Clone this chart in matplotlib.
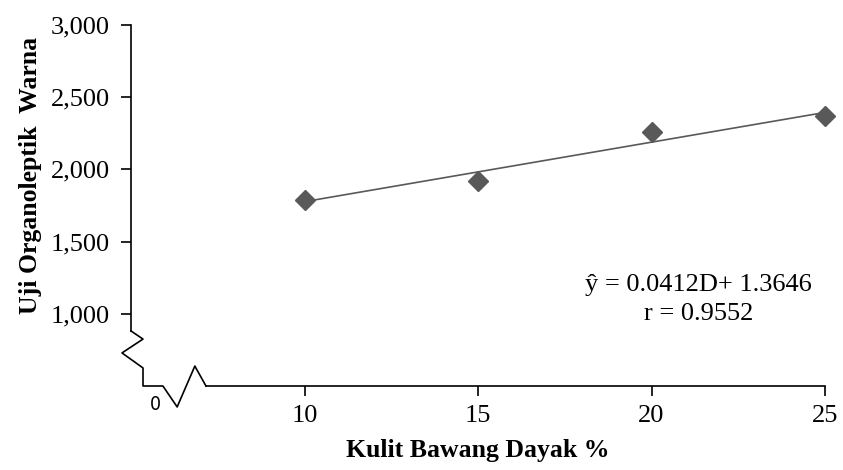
import matplotlib
matplotlib.use("Agg")
import matplotlib.pyplot as plt
import numpy as np

# data (x = % kulit bawang dayak, y = skor organoleptik warna)
konsentrasi = [10, 15, 20, 25]
skor_warna = [1.79, 1.92, 2.26, 2.37]
slope, intercept = 0.0412, 1.3646
x_ticks = [10, 15, 20, 25]
y_ticks = [1.0, 1.5, 2.0, 2.5, 3.0]

SERIF = "Liberation Serif"
GREY = "#595959"

fig = plt.figure(figsize=(8.43, 4.70), dpi=100)
W, H = 843, 470
ax = fig.add_axes([131 / W, (H - 386) / H, (825 - 131) / W, (386 - 25) / H])
ax.set_xlim(5, 25)
ax.set_ylim(0.5, 3.0)

# points + regression line
ax.plot(konsentrasi, skor_warna, "D", color=GREY, markersize=10, zorder=3,
        clip_on=False)
xl = np.array([konsentrasi[0], konsentrasi[-1]])
ax.plot(xl, slope * xl + intercept, color=GREY, linewidth=1.2, zorder=2)

# spines with broken-axis look
for s in ["top", "right"]:
    ax.spines[s].set_visible(False)
ax.spines["left"].set_bounds(0.881, 3.0)
ax.spines["bottom"].set_bounds(7.16, 25)
ax.spines["left"].set_linewidth(1.2)
ax.spines["bottom"].set_linewidth(1.2)

zx = [5.0, 5.346, 4.74, 5.346, 5.346, 5.92, 6.33, 6.84, 7.16]
zy = [0.881, 0.825, 0.729, 0.625, 0.5, 0.5, 0.355, 0.638, 0.5]
ax.plot(zx, zy, color="black", linewidth=1.2, clip_on=False)
ax.text(5.69, 0.375, "0", fontsize=14, family="DejaVu Sans",
        fontstretch="condensed", ha="center", va="center", clip_on=False)

ax.set_xticks(x_ticks)
ax.set_xticklabels([str(v) for v in x_ticks], family=SERIF, fontsize=19)
ax.set_yticks(y_ticks)
ax.set_yticklabels([f"{v:,.3f}".replace(".", ",") for v in y_ticks],
                   family=SERIF, fontsize=19)
ax.tick_params(axis="both", direction="out", length=7, width=1.2, colors="black")
ax.tick_params(axis="x", pad=7)
ax.tick_params(axis="y", pad=8)

ax.set_xlabel("Kulit Bawang Dayak %", family=SERIF, fontsize=18.5,
              fontweight="bold", labelpad=8)
ax.set_ylabel("Uji Organoleptik  Warna", family=SERIF, fontsize=18.5,
              fontweight="bold")
ax.yaxis.set_label_coords(-0.128, 0.584)

ax.text(0.818, 0.24, "\u0177 = 0.0412D+ 1.3646\nr = 0.9552", transform=ax.transAxes,
        family=SERIF, fontsize=19, ha="center", va="center", linespacing=1.45)

fig.savefig("out.png", dpi=100)
